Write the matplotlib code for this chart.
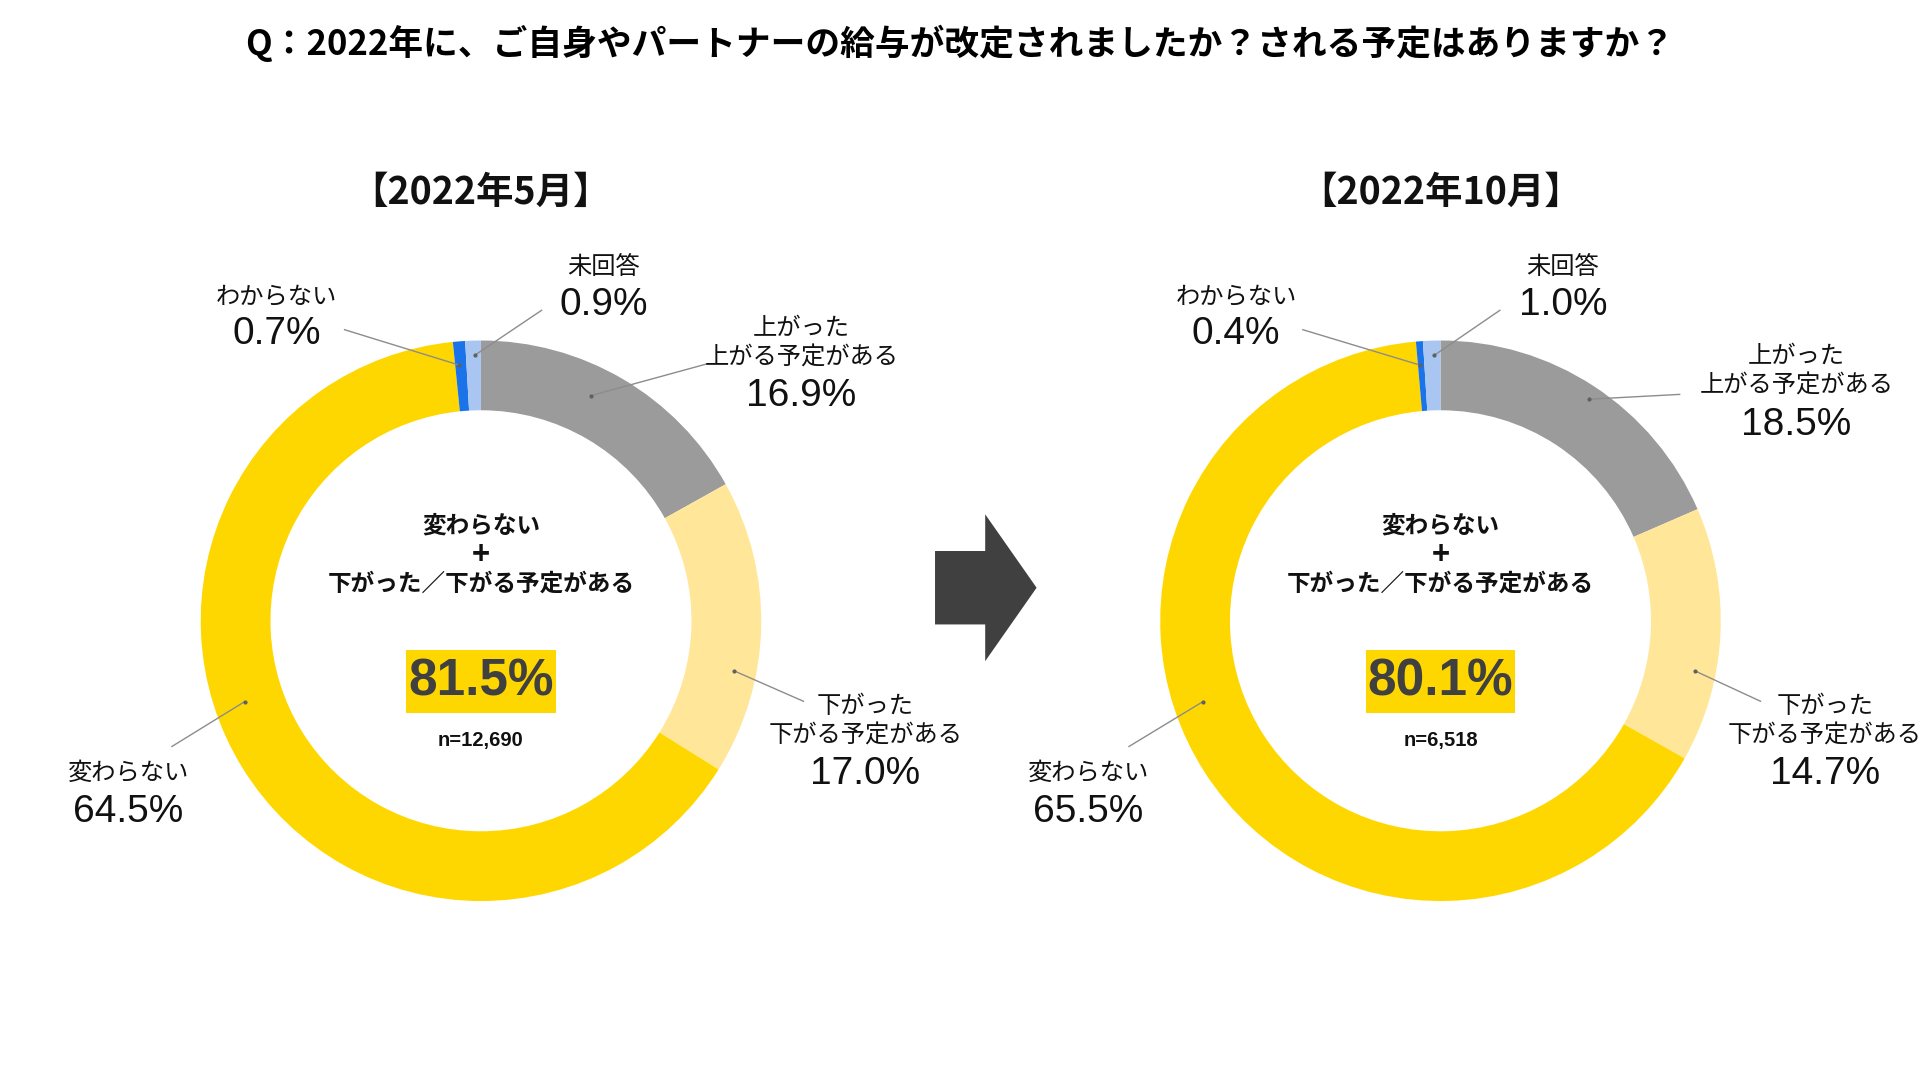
import matplotlib
matplotlib.use("Agg")
import matplotlib.pyplot as plt
from matplotlib.patches import Rectangle, Polygon

# ---------------- data ----------------
title = "Q：2022年に、ご自身やパートナーの給与が改定されましたか？される予定はありますか？"
panel_titles = ["【2022年5月】", "【2022年10月】"]
categories = ["上がった\n上がる予定がある", "下がった\n下がる予定がある", "変わらない", "わからない", "未回答"]
values_may = [16.9, 17.0, 64.5, 0.7, 0.9]
values_oct = [18.5, 14.7, 65.5, 0.4, 1.0]
totals = ["81.5%", "80.1%"]
sample_sizes = ["n=12,690", "n=6,518"]
center_lines = ["変わらない", "+", "下がった／下がる予定がある"]
colors = ["#9B9B9B", "#FFE699", "#FFD700", "#1A73E8", "#A9C6F2"]

JP = ["Liberation Sans", "Noto Sans CJK JP", "DejaVu Sans"]
JPB = ["Noto Sans CJK JP", "DejaVu Sans"]

W, H = 1568, 882  # working coordinate space (scaled to 1919x1080)

def Y(y):
    return H - y

fig = plt.figure(figsize=(19.19, 10.80), dpi=100)
ax = fig.add_axes([0, 0, 1, 1])

centers = [393, 1177]
R, RW = 229, 57
datasets = [values_may, values_oct]

label_layout = [
    # 上がった
    [dict(x=655, ys=[268, 292], yn=323, l0=(578, 297), l1=(483, 323)),
     dict(x=1468, ys=[291, 315], yn=347, l0=(1373, 322), l1=(1298, 326))],
    # 下がった
    [dict(x=707, ys=[577, 601], yn=632, l0=(657, 573), l1=(600, 548)),
     dict(x=1491, ys=[577, 601], yn=632, l0=(1439, 573), l1=(1385, 548))],
    # 変わらない
    [dict(x=105, ys=[632], yn=663, l0=(140, 610), l1=(200, 573)),
     dict(x=889, ys=[632], yn=663, l0=(922, 610), l1=(983, 573))],
    # わからない
    [dict(x=226, ys=[243], yn=273, l0=(281, 269), l1=(375, 298)),
     dict(x=1010, ys=[243], yn=273, l0=(1064, 269), l1=(1160, 298))],
    # 未回答
    [dict(x=493, ys=[218], yn=249, l0=(443, 253), l1=(388, 290)),
     dict(x=1277, ys=[218], yn=249, l0=(1226, 253), l1=(1172, 290))],
]

for p, (cx, vals) in enumerate(zip(centers, datasets)):
    ax.pie(vals, colors=colors, startangle=90, counterclock=False,
           radius=R, center=(cx, Y(507)),
           wedgeprops=dict(width=RW, edgecolor="none", linewidth=0))
    # panel title
    ax.text(cx, Y(157), panel_titles[p], ha="center", va="center",
            fontsize=27, fontweight="bold", family=JPB, color="#111111")
    # center text
    for ln, yy, fs in zip(center_lines, [429, 453, 477], [17, 22, 17]):
        ax.text(cx, Y(yy), ln, ha="center", va="center", fontsize=fs,
                fontweight="bold", family=JPB, color="#111111")
    ax.add_patch(Rectangle((cx - 61, Y(582)), 122, 51, facecolor="#FFD700",
                           edgecolor="none"))
    ax.text(cx, Y(557), totals[p], ha="center", va="center", fontsize=37,
            fontweight="bold", family=["Liberation Sans"], color="#404040")
    ax.text(cx, Y(605), sample_sizes[p], ha="center", va="center", fontsize=14.5,
            fontweight="bold", family=["Liberation Sans"], color="#111111")
    # slice labels
    for i, cat in enumerate(categories):
        lay = label_layout[i][p]
        lines = cat.split("\n")
        for ln, yy in zip(lines, lay["ys"]):
            ax.text(lay["x"], Y(yy), ln, ha="center", va="center", fontsize=17.5,
                    family=JP, color="#111111")
        ax.text(lay["x"], Y(lay["yn"]), f"{vals[i]:.1f}%", ha="center",
                va="center", fontsize=28, family=JP, color="#111111")
        (x0, y0), (x1, y1) = lay["l0"], lay["l1"]
        ax.plot([x0, x1], [Y(y0), Y(y1)], color="#8C8C8C", lw=1.0,
                solid_capstyle="butt")
        ax.plot([x1], [Y(y1)], marker="o", ms=2, color="#606060")

# arrow between panels
ax.add_patch(Polygon([(764, Y(450)), (805, Y(450)), (805, Y(420)), (847, Y(480)),
                      (805, Y(540)), (805, Y(510)), (764, Y(510))],
                     closed=True, facecolor="#404040", edgecolor="none"))

# main title
ax.text(W / 2, Y(35), title, ha="center", va="center", fontsize=25,
        fontweight="bold", family=JPB, color="#000000")

ax.set_xlim(0, W)
ax.set_ylim(0, H)
ax.set_aspect("equal")
ax.axis("off")

fig.savefig("out.png", dpi=100, facecolor="white")
